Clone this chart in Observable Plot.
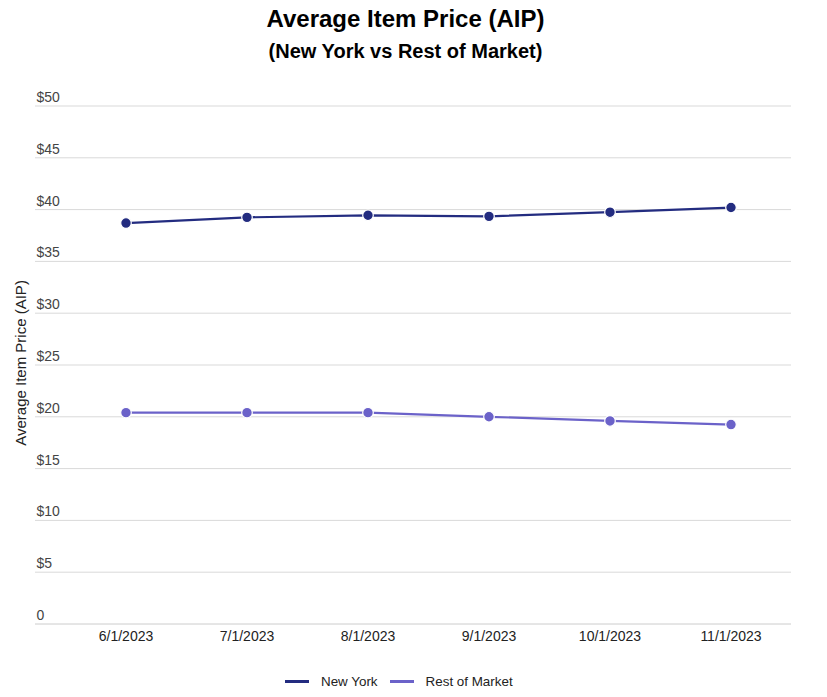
<!DOCTYPE html>
<html>
<head>
<meta charset="utf-8">
<script src="https://cdn.jsdelivr.net/npm/d3@7"></script>
<script src="https://cdn.jsdelivr.net/npm/@observablehq/plot@0.6"></script>
<style>
  body { margin: 0; background: #fff; font-family: "Liberation Sans", Arial, sans-serif; }
  #wrap { width: 827px; }
  .header { position: relative; height: 70px; }
  .title { position: absolute; left: 0; right: 16px; top: -2px; height: 41px; line-height: 41px; text-align: center; font-weight: bold; font-size: 24px; color: #000; }
  .subtitle { position: absolute; left: 0; right: 16px; top: 36px; height: 30px; line-height: 30px; text-align: center; font-weight: bold; font-size: 20px; color: #000; }
  #chart svg { display: block; }
  .legend { height: 32px; display: flex; justify-content: flex-start; align-items: center; font-size: 13.4px; color: #222; padding-left: 285px; box-sizing: border-box; }
  .legend .item { display: flex; align-items: center; margin-right: 12px; }
  .legend .sw { width: 24px; height: 3px; margin-right: 12px; }
</style>
</head>
<body>
<div id="wrap">
  <div class="header">
    <div class="title">Average Item Price (AIP)</div>
    <div class="subtitle">(New York vs Rest of Market)</div>
  </div>
  <div id="chart"></div>
  <div class="legend" id="legend"></div>
</div>
<script>
const months = ["6/1/2023", "7/1/2023", "8/1/2023", "9/1/2023", "10/1/2023", "11/1/2023"];
const newYork = [38.7, 39.25, 39.45, 39.35, 39.75, 40.2];
const restOfMarket = [20.4, 20.4, 20.4, 20.0, 19.6, 19.25];
const seriesNames = ["New York", "Rest of Market"];
const seriesColors = ["#232c80", "#6b62c9"];
const yTicks = [0, 5, 10, 15, 20, 25, 30, 35, 40, 45, 50];
const yTickLabels = ["0", "$5", "$10", "$15", "$20", "$25", "$30", "$35", "$40", "$45", "$50"];
const yTitle = "Average Item Price (AIP)";

const data = [];
months.forEach((m, i) => {
  data.push({month: m, value: newYork[i], series: seriesNames[0]});
});
months.forEach((m, i) => {
  data.push({month: m, value: restOfMarket[i], series: seriesNames[1]});
});
const tickData = yTicks.map((v, i) => ({v, label: yTickLabels[i]}));

const plot = Plot.plot({
  width: 827,
  height: 595,
  marginLeft: 35,
  marginRight: 36,
  marginTop: 35.5,
  marginBottom: 41.5,
  style: {fontFamily: "Liberation Sans, Arial, sans-serif", fontSize: "14px", color: "#444", background: "#fff"},
  x: {type: "band", domain: months, insetLeft: 30, padding: 0, axis: null},
  y: {domain: [0, 50], axis: null},
  color: {domain: seriesNames, range: seriesColors},
  marks: [
    Plot.ruleY(yTicks, {stroke: d => d === 0 ? "#cccccc" : "#d9d9d9", strokeWidth: 1}),
    Plot.text(tickData, {y: "v", text: "label", frameAnchor: "left", textAnchor: "start", dx: 1, dy: -8.5, fill: "#444", fontSize: 14}),
    Plot.text(months, {x: d => d, text: d => d, frameAnchor: "bottom", dy: 17, fill: "#222", fontSize: 14}),
    Plot.text([yTitle], {y: [25.2], frameAnchor: "left", textAnchor: "middle", rotate: -90, dx: -14, fill: "#222", fontSize: 15}),
    Plot.line(data, {x: "month", y: "value", z: "series", stroke: "series", strokeWidth: 2.2}),
    Plot.dot(data, {x: "month", y: "value", fill: "series", stroke: "#fff", strokeWidth: 1.2, r: 5.3})
  ]
});
document.getElementById("chart").appendChild(plot);

const legend = document.getElementById("legend");
seriesNames.forEach((name, i) => {
  const item = document.createElement("div");
  item.className = "item";
  const sw = document.createElement("div");
  sw.className = "sw";
  sw.style.background = seriesColors[i];
  const t = document.createElement("span");
  t.textContent = name;
  item.appendChild(sw);
  item.appendChild(t);
  legend.appendChild(item);
});
</script>
</body>
</html>
